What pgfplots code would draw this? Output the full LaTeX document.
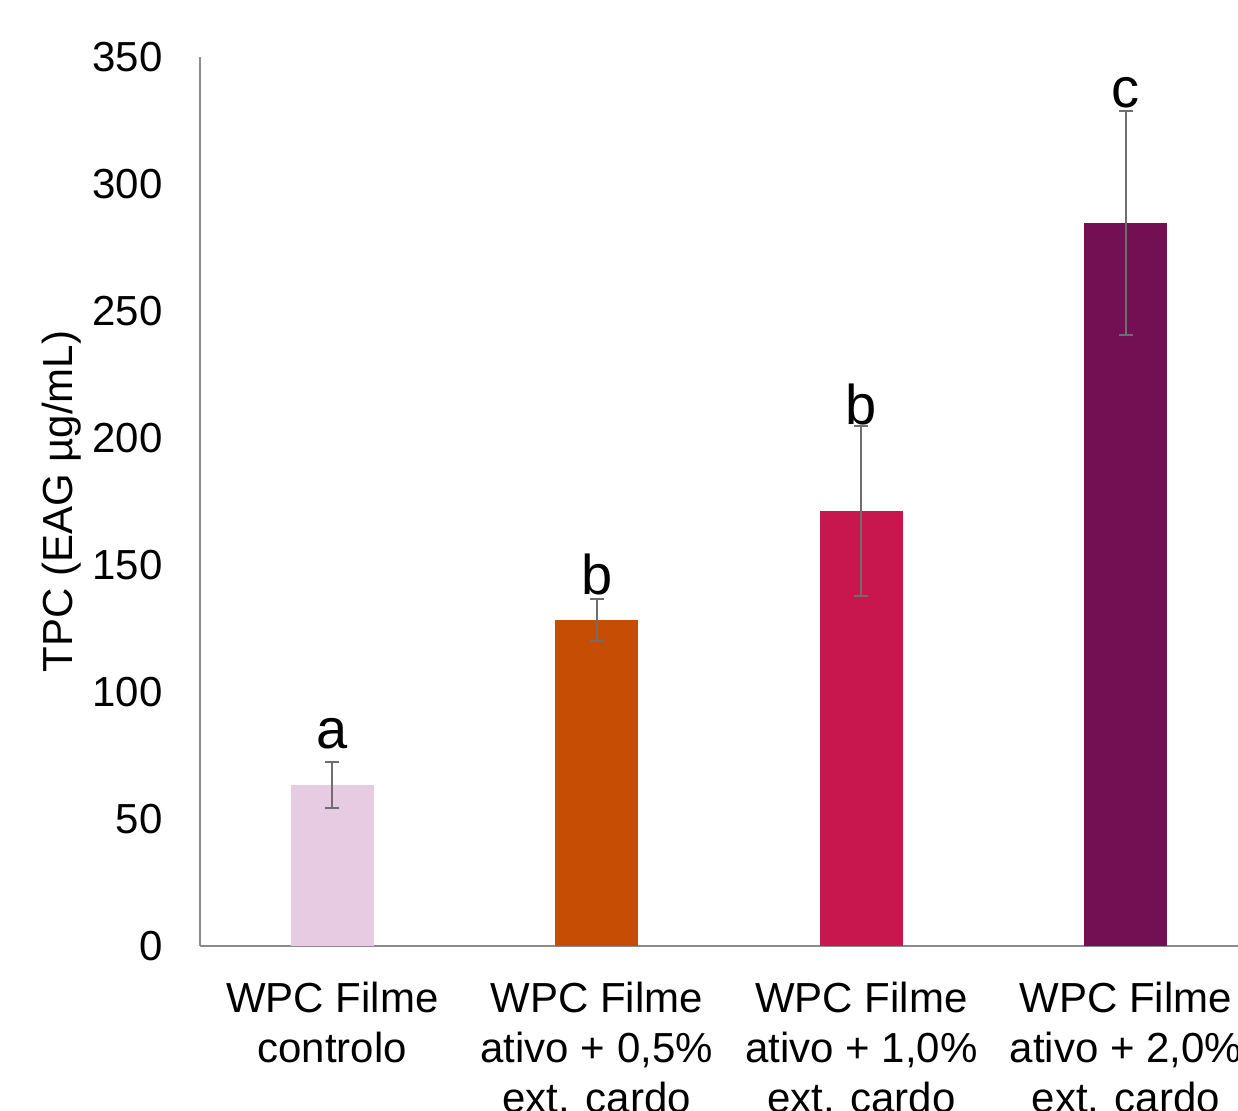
\documentclass[border=0pt]{standalone}
\usepackage{pgfplots}
\pgfplotsset{compat=1.18}
\usepackage{fontspec}
\setmainfont{Liberation Sans}
\definecolor{c1}{HTML}{E6CBE3}
\definecolor{c2}{HTML}{C54E04}
\definecolor{c3}{HTML}{C8174F}
\definecolor{c4}{HTML}{730F53}
\definecolor{axgray}{HTML}{8C8C8C}
\definecolor{errgray}{HTML}{6E6E6E}
\begin{document}
\begin{tikzpicture}
\useasboundingbox (-100pt,-82.5pt) rectangle (519pt,473pt);
\begin{axis}[
  scale only axis, width=519pt, height=444.5pt,
  xmin=-0.5, xmax=3.424, ymin=0, ymax=350,
  axis lines*=left,
  axis line style={axgray, line width=1pt},
  major tick length=0pt,
  ytick={0,50,...,350},
  xtick={0,1,2,3},
  xticklabels={{WPC Filme\\controlo},{WPC Filme\\ativo + 0,5\%\\ext. cardo},{WPC Filme\\ativo + 1,0\%\\ext. cardo},{WPC Filme\\ativo + 2,0\%\\ext. cardo}},
  /pgf/number format/assume math mode=true,
  tick label style={font=\fontsize{21}{25}\selectfont},
  xticklabel style={align=center, inner sep=0pt, yshift=-18pt},
  yticklabel style={inner sep=0pt, xshift=-18.5pt},
  ylabel={TPC (EAG µg/mL)},
  ylabel style={font=\fontsize{21}{25}\selectfont, at={(axis description cs:-0.133,0.5)}, anchor=center, rotate=0},
  ybar, bar width=41.5pt, bar shift=0pt,
  error bars/y dir=both, error bars/y explicit,
  error bars/error bar style={errgray, line width=1pt},
  error bars/error mark options={errgray, line width=1pt, mark size=3.5pt, rotate=90},
  clip=false,
]
\addplot[fill=c1, draw=none] coordinates {(0,63.4) +- (0,9.0)};
\addplot[fill=c2, draw=none] coordinates {(1,128.3) +- (0,8.4)};
\addplot[fill=c3, draw=none] coordinates {(2,171.3) +- (0,33.4)};
\addplot[fill=c4, draw=none] coordinates {(3,284.6) +- (0,44.1)};
\node[anchor=base, inner sep=0pt, font=\fontsize{28}{30}\selectfont] at (axis cs:0,77.6) {a};
\node[anchor=base, inner sep=0pt, font=\fontsize{28}{30}\selectfont] at (axis cs:1,138.2) {b};
\node[anchor=base, inner sep=0pt, font=\fontsize{28}{30}\selectfont] at (axis cs:2,205.5) {b};
\node[anchor=base, inner sep=0pt, font=\fontsize{28}{30}\selectfont] at (axis cs:3,330) {c};
\end{axis}
\end{tikzpicture}
\end{document}
